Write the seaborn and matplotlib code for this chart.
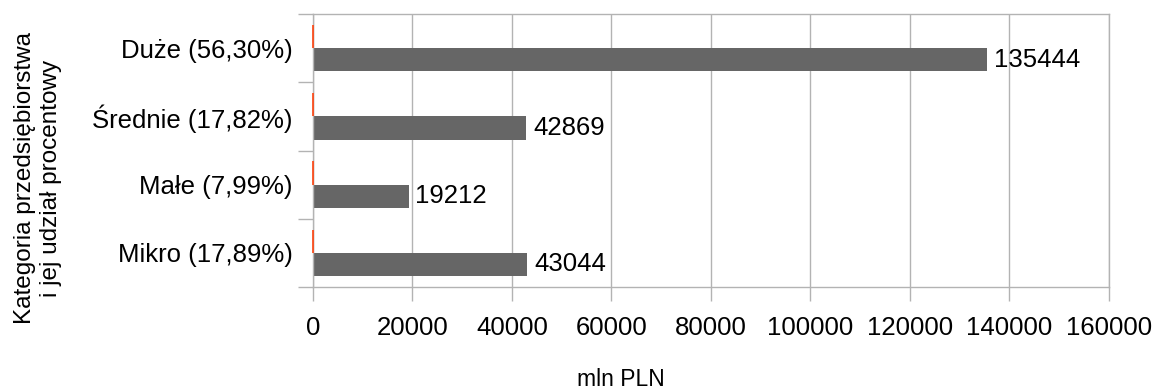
import matplotlib
matplotlib.use("Agg")
import matplotlib.pyplot as plt
import seaborn as sns
import pandas as pd
from matplotlib.ticker import FixedLocator

# Data
categories = ["Duże (56,30%)", "Średnie (17,82%)", "Małe (7,99%)", "Mikro (17,89%)"]
values_mln = [135444, 42869, 19212, 43044]
shares_pct = [56.30, 17.82, 7.99, 17.89]
x_ticks = [0, 20000, 40000, 60000, 80000, 100000, 120000, 140000, 160000]

df = pd.DataFrame({
    "kategoria": categories * 2,
    "seria": ["udział"] * len(categories) + ["wartość"] * len(categories),
    "wartosc": shares_pct + values_mln,
})

sns.set_theme(style="white")
plt.rcParams["font.family"] = ["Liberation Sans", "DejaVu Sans"]

W, H = 1153, 390
fig = plt.figure(figsize=(W / 100, H / 100), dpi=100)
ax = fig.add_axes([313 / W, 1 - 287 / H, (1108.7 - 313) / W, (287 - 14) / H])

sns.barplot(
    data=df, y="kategoria", x="wartosc", hue="seria",
    order=categories, hue_order=["udział", "wartość"],
    palette={"udział": "#ff420e", "wartość": "#666666"},
    orient="h", width=0.68, dodge=True, legend=False, ax=ax,
    saturation=1, edgecolor="none", linewidth=0,
)

# the share bars are tiny on this scale: draw them as a thin line above the axis
for patch in ax.containers[0]:
    patch.set_edgecolor("#ff420e")
    patch.set_linewidth(1.2)
    patch.set_zorder(4)
    patch.set_clip_on(False)

FS = 18.5
ax.bar_label(ax.containers[1], labels=[str(v) for v in values_mln],
             padding=5, fontsize=FS, color="black")

ax.set_xlim(0, 160000)
ax.set_ylim(len(categories) - 0.5, -0.5)
ax.set_xticks(x_ticks)
ax.set_xticklabels([str(t) for t in x_ticks], fontsize=FS, color="black")
ax.tick_params(axis="y", which="major", length=0, labelsize=FS, labelcolor="black", pad=14.5)
ax.yaxis.set_minor_locator(FixedLocator([i - 0.5 for i in range(len(categories) + 1)]))
ax.tick_params(axis="y", which="minor", length=11, width=1, color="#b3b3b3", left=True)
ax.tick_params(axis="x", which="major", length=10, width=1, color="#b3b3b3", bottom=True, pad=11)

ax.grid(axis="x", color="#b3b3b3", linewidth=1)
ax.set_axisbelow(True)
for s in ax.spines.values():
    s.set_color("#b3b3b3")
    s.set_linewidth(1)

ax.set_xlabel("")
ax.set_ylabel("")

fig.text(621 / W, 1 - 380 / H, "mln PLN", ha="center", va="center", fontsize=16.5, color="black")
fig.text(25 / W, 1 - 178 / H, "Kategoria przedsiębiorstwa", rotation=90,
         ha="center", va="center", fontsize=17.5, color="black")
fig.text(51 / W, 1 - 178 / H, "i jej udział procentowy", rotation=90,
         ha="center", va="center", fontsize=17.5, color="black")

fig.savefig("out.png", dpi=100)
